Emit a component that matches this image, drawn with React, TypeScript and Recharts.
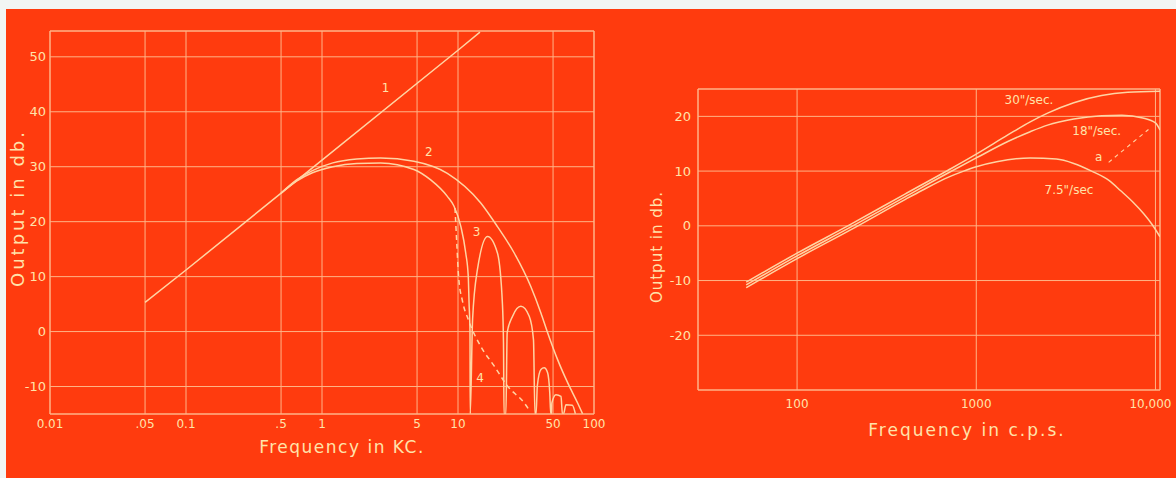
import React from 'react';
import { LineChart, Line, XAxis, YAxis, CartesianGrid, ReferenceLine, ReferenceDot } from 'recharts';

const BG = '#FF3B0E';
const INK = '#FFD4A4';
const GRID = '#FFB487';
const TEXT = '#FFE3AA';
const FONT = '"DejaVu Sans", "Liberation Sans", sans-serif';

// ---------- Left panel (Frequency in KC) ----------
const leftXTicks = [0.01, 0.05, 0.1, 0.5, 1, 5, 10, 50, 100];
const leftXLabels = ['0.01', '.05', '0.1', '.5', '1', '5', '10', '50', '100'];
const leftYTicks = [-10, 0, 10, 20, 30, 40, 50];

const c1Freq = [0.05, 0.1, 1, 10, 14.5];
const c1Db = [5.3, 11.2, 31.2, 51.2, 54.5];

const c2Freq = [0.5, 0.65, 0.85, 1.2, 1.8, 2.7, 4.74, 8.35, 14.7, 19.5, 25.9, 34.3, 40.7, 45.6, 54, 64, 75.8, 82.6];
const c2Db = [25.2, 27.6, 29.3, 30.7, 31.4, 31.6, 31.0, 28.8, 23.4, 19.1, 14.3, 8.2, 3.4, -0.2, -5.1, -9.3, -13, -15];

const c3Freq = [0.5, 0.65, 0.85, 1.2, 1.8, 2.7, 4.74, 6.3, 8.35, 9.35, 10.5, 11.4, 11.9, 12.06, 12.25, 12.3,
  12.8, 13.9, 16.5, 19.5, 21.2, 21.6, 21.8, 22.5, 23, 25.2, 29, 33.4, 35.9, 36.8, 37.5, 38.3, 40.7, 43, 45.6, 47.3, 48.1,
  48.7, 49, 52.5, 57.2, 58.6, 59.7, 62.2, 69.3, 73];
const c3Db = [25.2, 27.4, 28.9, 30.0, 30.6, 30.7, 29.5, 27.6, 24.6, 22.8, 19.1, 14.3, 10, 5.2, 0, -15,
  2.2, 11.3, 17.3, 14.3, 5.2, -2, -15, -15, -0.2, 2.8, 4.6, 2.8, -1.5, -15, -15, -9.9, -6.9, -6.6, -7.5, -11.2, -15,
  -15, -13, -11.5, -11.8, -15, -15, -13.3, -13.4, -15];

const c4Freq = [9.5, 9.8, 10.1, 10.8, 11.9, 14.7, 18.5, 23.1, 30.7, 33.4];
const c4Db = [22.5, 16, 10, 5.5, 2.2, -2.7, -6.3, -9.9, -13, -14.3];

const leftCurveLabels = ['1', '2', '3', '4'];
const leftLabelFreq = [2.94, 6.1, 13.7, 14.5];
const leftLabelDb = [44.4, 32.7, 18.2, -8.4];

// ---------- Right panel (Frequency in c.p.s.) ----------
const rightXTicks = [100, 1000, 10000];
const rightXLabels = ['100', '1000', '10,000'];
const rightYTicks = [-20, -10, 0, 10, 20];

const s30Freq = [52, 100, 200, 400, 700, 1000, 1500, 2000, 2500, 3500, 5000, 7000, 10600];
const s30Db = [-10.3, -5, 0.3, 5.8, 10.2, 13.1, 16.6, 19, 20.6, 22.5, 23.8, 24.4, 24.6];

const s18Freq = [52, 100, 200, 400, 700, 1000, 1500, 2000, 2500, 3500, 5000, 6500, 8500, 10000, 10600];
const s18Db = [-10.8, -5.5, -0.2, 5.3, 9.7, 12.4, 15.4, 17.2, 18.4, 19.5, 20.1, 20.2, 19.7, 18.8, 17.5];

const s75Freq = [52, 100, 200, 400, 500, 700, 850, 1000, 1300, 2000, 2800, 3500, 4400, 5500, 6400, 7500, 8600, 9600, 10600];
const s75Db = [-11.3, -6, -0.7, 4.8, 6.5, 8.9, 10, 10.8, 11.7, 12.4, 12.2, 11.4, 10, 8.3, 6.4, 4.3, 2.2, 0.2, -2];

const aFreq = [5480, 9140];
const aDb = [11.6, 17.6];

const rightCurveLabels = ['30"/sec.', '18"/sec.', 'a', '7.5"/sec'];
const rightLabelFreq = [1968, 4700, 4820, 3290];
const rightLabelDb = [23.1, 17.4, 12.7, 6.6];

const toPts = (f: number[], v: number[]) => f.map((x, i) => ({ f: x, v: v[i] }));

const textShape = (txt: string, size: number) => (p: any) => (
  <text x={p.cx} y={p.cy} dy="0.35em" textAnchor="middle" fill={TEXT} fontSize={size} fontFamily={FONT}>
    {txt}
  </text>
);

const RightTick = (props: any) => {
  const { x, y, payload } = props;
  const i = rightXTicks.indexOf(payload.value);
  const shift = payload.value === 10000 ? -5 : 0;
  return (
    <text x={x + shift} y={y} dy="0.71em" textAnchor="middle" fill={TEXT} fontSize={12} fontFamily={FONT}>
      {rightXLabels[i]}
    </text>
  );
};

const lineProps = {
  dataKey: 'v',
  type: 'monotone' as const,
  stroke: INK,
  strokeWidth: 1.5,
  dot: false,
  isAnimationActive: false,
};

const LeftChart = () => (
  <LineChart width={620} height={478} margin={{ top: 31, right: 26, bottom: 34, left: 0 }}>
    <CartesianGrid stroke={GRID} strokeWidth={1} />
    <XAxis
      type="number"
      dataKey="f"
      scale="log"
      domain={[0.01, 100]}
      ticks={leftXTicks}
      interval={0}
      allowDataOverflow
      tickFormatter={(v: number) => leftXLabels[leftXTicks.indexOf(v)]}
      height={30}
      tickSize={0}
      tickMargin={5}
      stroke={GRID}
      tick={{ fill: TEXT, fontSize: 12, fontFamily: FONT }}
    />
    <YAxis
      type="number"
      domain={[-15, 54.7]}
      ticks={leftYTicks}
      interval={0}
      allowDataOverflow
      width={50}
      tickSize={0}
      tickMargin={4}
      stroke={GRID}
      tick={{ fill: TEXT, fontSize: 13, fontFamily: FONT }}
    />
    <ReferenceLine y={54.7} stroke={GRID} ifOverflow="visible" />
    <ReferenceLine x={100} stroke={GRID} ifOverflow="visible" />
    <Line {...lineProps} type="linear" data={toPts(c1Freq, c1Db)} />
    <Line {...lineProps} data={toPts(c2Freq, c2Db)} />
    <Line {...lineProps} data={toPts(c3Freq, c3Db)} />
    <Line {...lineProps} data={toPts(c4Freq, c4Db)} strokeDasharray="5 4" />
    {leftCurveLabels.map((t, i) => (
      <ReferenceDot key={t} x={leftLabelFreq[i]} y={leftLabelDb[i]} r={1} ifOverflow="visible" shape={textShape(t, 12)} />
    ))}
  </LineChart>
);

const RightChart = () => (
  <LineChart width={556} height={478} margin={{ top: 89, right: 16, bottom: 58, left: 0 }}>
    <CartesianGrid stroke={GRID} strokeWidth={1} />
    <XAxis
      type="number"
      dataKey="f"
      scale="log"
      domain={[28, 10600]}
      ticks={rightXTicks}
      interval={0}
      allowDataOverflow
      height={30}
      tickSize={0}
      tickMargin={9}
      stroke={GRID}
      tick={<RightTick />}
    />
    <YAxis
      type="number"
      domain={[-30, 25]}
      ticks={rightYTicks}
      interval={0}
      allowDataOverflow
      width={78}
      tickSize={0}
      tickMargin={7}
      stroke={GRID}
      tick={{ fill: TEXT, fontSize: 13, fontFamily: FONT }}
    />
    <ReferenceLine y={25} stroke={GRID} ifOverflow="visible" />
    <ReferenceLine x={10600} stroke={GRID} ifOverflow="visible" />
    <Line {...lineProps} data={toPts(s30Freq, s30Db)} />
    <Line {...lineProps} data={toPts(s18Freq, s18Db)} />
    <Line {...lineProps} data={toPts(s75Freq, s75Db)} />
    <Line {...lineProps} type="linear" data={toPts(aFreq, aDb)} strokeDasharray="4 4" strokeWidth={1.1} />
    {rightCurveLabels.map((t, i) => (
      <ReferenceDot key={t} x={rightLabelFreq[i]} y={rightLabelDb[i]} r={1} ifOverflow="visible" shape={textShape(t, 12)} />
    ))}
  </LineChart>
);

const Title = ({ text, x, y, size, spacing, rotate }: { text: string; x: number; y: number; size: number; spacing: number; rotate?: boolean }) => (
  <div
    style={{
      position: 'absolute',
      left: x,
      top: y,
      transform: `translate(-50%, -50%)${rotate ? ' rotate(-90deg)' : ''}`,
      color: TEXT,
      fontSize: size,
      fontFamily: FONT,
      letterSpacing: spacing,
      whiteSpace: 'nowrap',
      lineHeight: 1,
    }}
  >
    {text}
  </div>
);

export default function App() {
  return (
    <div style={{ position: 'absolute', left: 0, top: 0, width: 1176, height: 478, background: '#F2F5F4', overflow: 'hidden', fontFamily: FONT }}>
      <div style={{ position: 'absolute', left: 6, top: 9, width: 1170, height: 469, background: BG }} />
      <div style={{ position: 'absolute', left: 0, top: 0 }}>
        <LeftChart />
      </div>
      <div style={{ position: 'absolute', left: 620, top: 0 }}>
        <RightChart />
      </div>
      <Title text="Frequency in KC." x={342} y={447} size={17} spacing={1.5} />
      <Title text="Output in db." x={18} y={208} size={18} spacing={3} rotate />
      <Title text="Frequency in c.p.s." x={967} y={430} size={17} spacing={2} />
      <Title text="Output in db." x={657} y={247} size={15} spacing={1} rotate />
    </div>
  );
}
